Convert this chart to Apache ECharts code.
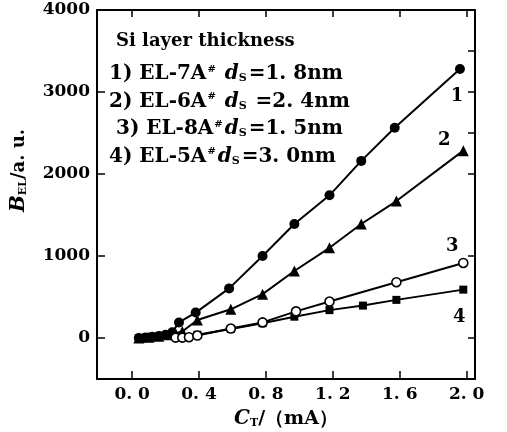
<!DOCTYPE html>
<html>
<head>
<meta charset="utf-8">
<script src="https://cdn.jsdelivr.net/npm/echarts@6/dist/echarts.min.js"></script>
<style>html,body{margin:0;padding:0;background:#fff;}#c{width:507px;height:432px;}</style>
</head>
<body>
<div id="c"></div>
<script>
// ---- data ----
var xTickValues = [0, 0.4, 0.8, 1.2, 1.6, 2.0];
var xTickLabels = ['0. 0', '0. 4', '0. 8', '1. 2', '1. 6', '2. 0'];
var yTickValues = [0, 1000, 2000, 3000, 4000];
var yTickLabels = ['0', '1000', '2000', '3000', '4000'];
var yRightTicks = [0, 1000, 2000, 2500, 3000, 3500];

var s1x = [0.04, 0.08, 0.12, 0.16, 0.20, 0.24, 0.28, 0.38, 0.58, 0.78, 0.97, 1.18, 1.37, 1.57, 1.96];
var s1y = [0, 5, 15, 25, 40, 70, 190, 310, 605, 1000, 1390, 1740, 2160, 2565, 3280];
var s2x = [0.04, 0.10, 0.16, 0.22, 0.30, 0.39, 0.59, 0.78, 0.97, 1.18, 1.37, 1.58, 1.98];
var s2y = [0, 10, 20, 40, 80, 220, 350, 535, 817, 1100, 1390, 1670, 2285];
var s3x = [0.26, 0.30, 0.34, 0.39, 0.59, 0.78, 0.98, 1.18, 1.58, 1.98];
var s3y = [5, 5, 10, 30, 115, 190, 325, 445, 680, 915];
var s4x = [0.04, 0.08, 0.12, 0.16, 0.20, 0.24, 0.39, 0.59, 0.78, 0.97, 1.18, 1.38, 1.58, 1.98];
var s4y = [0, 5, 10, 20, 30, 45, 40, 110, 180, 260, 340, 395, 465, 590];
var curveNames = ['1', '2', '3', '4'];
var legendTitle = 'Si layer thickness';
var legendLines = [
  ['1) EL-7A', ' ', '=1. 8nm'],
  ['2) EL-6A', ' ', ' =2. 4nm'],
  [' 3) EL-8A', '', '=1. 5nm'],
  ['4) EL-5A', '', '=3. 0nm']
];

var FONT = 'DejaVu Serif';

function pairs(xs, ys, name, offset) {
  return xs.map(function (x, i) {
    var item = { value: [x, ys[i]] };
    if (i === xs.length - 1) {
      item.label = {
        show: true, formatter: name, position: 'inside', offset: offset,
        color: '#000', fontFamily: FONT, fontWeight: 'bold', fontSize: 18
      };
    }
    return item;
  });
}

var chart = echarts.init(document.getElementById('c'), null, { renderer: 'canvas' });

var axisLineStyle = { color: '#000', width: 2 };
var tickStyle = { color: '#000', width: 1.5 };
var labelFont = { color: '#000', fontFamily: FONT, fontWeight: 'bold', fontSize: 17 };

var option = {
  backgroundColor: '#fff',
  animation: false,
  grid: { left: 97, right: 32, top: 10, bottom: 53, containLabel: false, outerBoundsMode: 'none' },
  xAxis: [{
    type: 'value', position: 'bottom', min: -0.21, max: 2.05,
    axisLine: { show: true, onZero: false, lineStyle: axisLineStyle },
    axisTick: { show: true, inside: true, length: 8, lineStyle: tickStyle, customValues: xTickValues },
    axisLabel: Object.assign({ margin: 7, customValues: xTickValues,
      formatter: function (v) { var i = xTickValues.indexOf(v); return i >= 0 ? xTickLabels[i] : ''; } }, labelFont),
    splitLine: { show: false },
    name: '{c|C}{t|T}{n|/（mA）}', nameLocation: 'middle', nameGap: 30,
    nameTextStyle: { rich: {
      c: { fontFamily: FONT, fontStyle: 'italic', fontWeight: 'bold', fontSize: 20, color: '#000' },
      t: { fontFamily: FONT, fontWeight: 'bold', fontSize: 11, color: '#000', verticalAlign: 'bottom', padding: [9, 0, 0, 0] },
      n: { fontFamily: FONT, fontWeight: 'bold', fontSize: 19, color: '#000' }
    } }
  }, {
    type: 'value', position: 'top', min: -0.21, max: 2.05,
    axisLine: { show: true, onZero: false, lineStyle: axisLineStyle },
    axisTick: { show: true, inside: true, length: 7, lineStyle: tickStyle, customValues: xTickValues },
    axisLabel: { show: false }, splitLine: { show: false }
  }],
  yAxis: [{
    type: 'value', position: 'left', min: -500, max: 4000,
    axisLine: { show: true, onZero: false, lineStyle: axisLineStyle },
    axisTick: { show: true, inside: true, length: 8, lineStyle: tickStyle, customValues: yTickValues },
    axisLabel: Object.assign({ margin: 7, customValues: yTickValues,
      formatter: function (v) { var i = yTickValues.indexOf(v); return i >= 0 ? yTickLabels[i] : ''; } }, labelFont),
    splitLine: { show: false },
    name: '{b|B}{e|EL}{n|/a. u.}', nameLocation: 'middle', nameGap: 68, nameRotate: 90,
    nameTextStyle: { rich: {
      b: { fontFamily: FONT, fontStyle: 'italic', fontWeight: 'bold', fontSize: 20, color: '#000', padding: [0, 0, 0, 48] },
      e: { fontFamily: FONT, fontWeight: 'bold', fontSize: 11, color: '#000', verticalAlign: 'bottom', padding: [9, 0, 0, 0] },
      n: { fontFamily: FONT, fontWeight: 'bold', fontSize: 18, color: '#000' }
    } }
  }, {
    type: 'value', position: 'right', min: -500, max: 4000,
    axisLine: { show: true, onZero: false, lineStyle: axisLineStyle },
    axisTick: { show: true, inside: true, length: 7, lineStyle: tickStyle, customValues: yRightTicks },
    axisLabel: { show: false }, splitLine: { show: false }
  }],
  graphic: [
    { type: 'text', left: 116, top: 32, z: 100, style: { text: legendTitle, font: 'bold 18px "DejaVu Serif"', fill: '#000' } },
    { type: 'group', left: 109, top: 64, z: 100, children: legendLines.map(function (L, k) {
      return {
        type: 'text', x: 0, y: k * 27.5,
        style: {
          text: '{m|' + L[0] + '}{sup|#}{m|' + L[1] + '}{d|d}{s|S}{m|' + L[2] + '}',
          rich: {
            m: { font: 'bold 20px "DejaVu Serif"', fill: '#000' },
            sup: { font: 'bold 10px "DejaVu Serif"', fill: '#000', verticalAlign: 'top', padding: [0, 2, 9, 1] },
            d: { font: 'italic bold 20px "DejaVu Serif"', fill: '#000' },
            s: { font: 'bold 11px "DejaVu Serif"', fill: '#000', verticalAlign: 'bottom', padding: [7, 2, 0, 0] }
          }
        }
      };
    }) }
  ],
  series: [
    { type: 'line', name: curveNames[0], data: pairs(s1x, s1y, curveNames[0], [-3, 27]),
      symbol: 'circle', symbolSize: 10, itemStyle: { color: '#000' },
      lineStyle: { color: '#000', width: 2 }, z: 4 },
    { type: 'line', name: curveNames[1], data: pairs(s2x, s2y, curveNames[1], [-19, -10]),
      symbol: 'triangle', symbolSize: 11, itemStyle: { color: '#000' },
      lineStyle: { color: '#000', width: 2 }, z: 3 },
    { type: 'line', name: curveNames[2], data: pairs(s3x, s3y, curveNames[2], [-11, -17]),
      symbol: 'circle', symbolSize: 9, itemStyle: { color: '#fff', borderColor: '#000', borderWidth: 1.6 },
      lineStyle: { color: '#000', width: 2 }, z: 5 },
    { type: 'line', name: curveNames[3], data: pairs(s4x, s4y, curveNames[3], [-4, 28]),
      symbol: 'rect', symbolSize: 8, itemStyle: { color: '#000' },
      lineStyle: { color: '#000', width: 2 }, z: 2 }
  ]
};
chart.setOption(option);
</script>
</body>
</html>
